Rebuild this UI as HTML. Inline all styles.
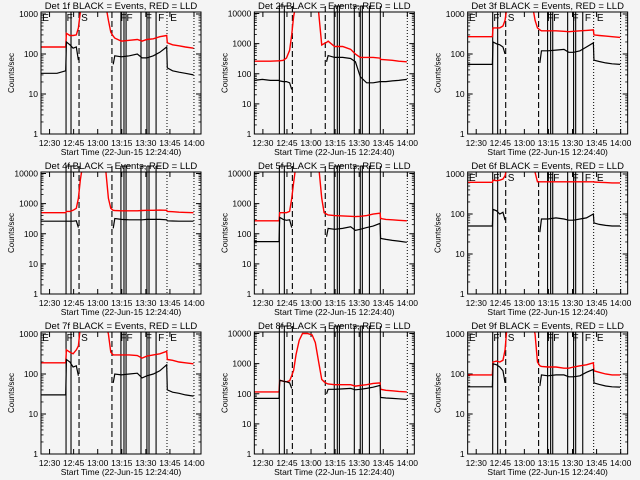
<!DOCTYPE html>
<html><head><meta charset="utf-8"><style>
html,body{margin:0;padding:0;background:#f4f4f4;}
svg{display:block;font-family:"Liberation Sans",sans-serif;}
</style></head><body>
<svg id="chart" width="640" height="480" viewBox="0 0 640 480" xmlns="http://www.w3.org/2000/svg">
<rect x="0" y="0" width="640" height="480" fill="#f4f4f4"/>
</svg>
<script>
const N=null;
const T=[0,5,10,15.4,15.8,18,20,22,23.3,24.5,26,28,30,33,36,38,40,42,43.5,45,46,50,55,60,63,66,70,74,78.3,78.7,82,86,90,95];
const DETECTORS=["1f","2f","3f","4f","5f","6f","7f","8f","9f"];
const TOPS=[1000,10000,1000,10000,10000,1000,1000,10000,1000];
const XTICK_TIMES=[5.33,20.33,35.33,50.33,65.33,80.33,95.33];
const XTICK_LABELS=["12:30","12:45","13:00","13:15","13:30","13:45","14:00"];
const SOLID_LINES=[15.6,18.7,49.8,51.7,53,62.3,66,67.3,71.7];
const DASHED_LINES=[23.7,44.2];
const DOTTED_LINES=[78.5,95.3];
const MARK_LABELS=["E","F","S","FF","F","F","E"];
const MARK_TIMES=[0.8,16,25,49.5,65.3,73,80.5];

const RED1=[150,150,150,150,330,290,290,300,450,1100,2000,2000,2000,2000,2000,2000,2000,700,350,280,250,210,220,230,210,230,240,270,290,190,170,160,150,140];
const BLACK1=[33,33,33,38,200,170,140,150,70,N,N,N,N,N,N,N,N,N,N,55,90,85,90,100,80,80,90,110,150,45,38,35,33,30];
const RED2=[260,260,260,270,270,280,330,600,2000,8000,20000,20000,20000,20000,20000,20000,12000,900,1000,1100,1200,800,800,650,450,350,350,350,330,300,290,280,260,250];
const BLACK2=[60,65,60,60,58,55,55,50,30,N,N,N,N,N,N,N,N,N,N,250,400,350,350,320,250,80,50,50,55,55,55,58,60,65];
const RED3=[270,270,270,270,450,450,450,500,700,1500,2000,2000,2000,2000,2000,2000,2000,700,450,400,380,380,380,370,360,370,380,390,400,300,290,280,270,260];
const BLACK3=[55,55,55,55,200,180,170,150,100,N,N,N,N,N,N,N,N,N,N,60,120,120,125,130,110,110,120,150,190,70,65,60,57,55];
const RED4=[500,500,500,500,550,550,600,700,1500,6000,20000,20000,20000,20000,20000,20000,20000,1500,700,600,590,580,580,580,590,600,600,610,600,550,540,520,510,500];
const BLACK4=[260,260,260,260,260,260,260,270,160,N,N,N,N,N,N,N,N,N,N,150,320,300,290,290,290,300,300,300,290,270,265,260,260,260];
const RED5=[270,270,270,270,500,500,500,550,1500,5000,20000,20000,20000,20000,20000,20000,20000,1500,500,450,420,400,390,380,370,380,400,450,480,320,300,290,280,270];
const BLACK5=[55,55,55,55,350,300,280,290,160,N,N,N,N,N,N,N,N,N,N,80,150,140,150,170,130,140,160,180,220,70,65,60,57,52];
const RED6=[620,620,620,620,700,680,700,750,900,1500,2000,2000,2000,2000,2000,2000,2000,1100,640,640,640,640,640,640,640,640,640,640,640,630,620,610,600,600];
const BLACK6=[50,50,50,50,130,120,100,110,70,N,N,N,N,N,N,N,N,N,N,35,75,75,80,75,70,70,75,80,100,60,55,52,50,50];
const RED7=[190,190,190,190,400,350,320,400,500,1500,2000,2000,2000,2000,2000,2000,2000,1000,350,300,300,300,300,290,250,280,300,320,370,230,220,200,190,180];
const BLACK7=[30,30,30,30,230,200,150,160,90,N,N,N,N,N,N,N,N,N,N,60,100,95,100,105,80,90,100,120,170,40,35,33,30,28];
const RED8=[115,115,115,115,280,260,250,270,400,600,2000,6000,10000,10000,9000,5000,1200,300,250,220,210,200,200,200,180,190,200,220,230,140,130,125,120,115];
const BLACK8=[70,70,70,70,280,260,250,230,150,N,N,N,N,N,N,N,N,N,N,100,140,140,145,150,135,140,150,165,190,75,72,70,68,65];
const RED9=[95,95,95,95,200,210,200,220,400,1500,2000,2000,2000,2000,2000,2000,2000,1000,200,160,155,150,150,140,140,150,160,170,190,120,110,100,95,95];
const BLACK9=[48,48,48,48,180,170,150,120,60,N,N,N,N,N,N,N,N,N,N,50,95,90,95,95,85,85,90,110,130,60,55,50,48,47];
const REDS=[RED1,RED2,RED3,RED4,RED5,RED6,RED7,RED8,RED9];
const BLACKS=[BLACK1,BLACK2,BLACK3,BLACK4,BLACK5,BLACK6,BLACK7,BLACK8,BLACK9];

const svg=document.getElementById('chart');
const NS='http://www.w3.org/2000/svg';
function mk(tag,attrs,parent){const e=document.createElementNS(NS,tag);for(const k in attrs)e.setAttribute(k,attrs[k]);parent.appendChild(e);return e;}
const PX0=41,PX1=201,PY0=12,PY1=134;
function xs(t){return PX0+t*1.605;}
function makeY(top){const dec=Math.log10(top);const span=dec===3?120:120.5;return v=>PY1-Math.log10(v)/dec*span;}

for(let p=0;p<9;p++){
  const col=p%3,row=Math.floor(p/3);
  const g=mk('g',{transform:`translate(${(col*213.33).toFixed(2)},${row*160})`},svg);
  
  
  const top=TOPS[p];const ys=makeY(top);const big=top===10000;
  const cid='clip'+p;
  const defs=mk('defs',{},g);const cp=mk('clipPath',{id:cid},defs);mk('rect',{x:PX0,y:PY0,width:PX1-PX0,height:PY1-PY0},cp);
  // title
  const title=mk('text',{x:121,y:9,'font-size':9.5,'text-anchor':'middle',fill:'#000'},g);
  title.textContent='Det '+DETECTORS[p]+' BLACK = Events, RED = LLD';
  
  
  // y ticks
  const decs=big?[1,10,100,1000,10000]:[1,10,100,1000];
  decs.forEach(v=>{const y=ys(v);
    mk('line',{x1:PX0,x2:PX0+5,y1:y,y2:y,stroke:'#000','stroke-width':1},g);
    mk('line',{x1:PX1-5,x2:PX1,y1:y,y2:y,stroke:'#000','stroke-width':1},g);
    const lb=mk('text',{x:PX0-3,y:y+3,'font-size':8.5,'text-anchor':'end',fill:'#000'},g);lb.textContent=String(v);
    
    
    for(let m=2;m<10;m++){const mv=v*m;if(mv>top)break;const my=ys(mv);
      mk('line',{x1:PX0,x2:PX0+2.5,y1:my,y2:my,stroke:'#000','stroke-width':0.8},g);
      mk('line',{x1:PX1-2.5,x2:PX1,y1:my,y2:my,stroke:'#000','stroke-width':0.8},g);}
  });
  const yt=mk('text',{x:0,y:0,'font-size':8,'text-anchor':'middle',fill:'#000',transform:'translate(14,73) rotate(-90)'},g);
  yt.textContent='Counts/sec';
  
  
  // x ticks
  XTICK_TIMES.forEach((t,i)=>{const x=xs(t);
    mk('line',{x1:x,x2:x,y1:PY1,y2:PY1-5,stroke:'#000','stroke-width':1},g);
    mk('line',{x1:x,x2:x,y1:PY0,y2:PY0+5,stroke:'#000','stroke-width':1},g);
    const lb=mk('text',{x:x,y:146,'font-size':8.5,'text-anchor':'middle',fill:'#000'},g);lb.textContent=XTICK_LABELS[i];
    
    
  });
  const xt=mk('text',{x:121,y:155,'font-size':8.5,'text-anchor':'middle',fill:'#000'},g);
  xt.textContent='Start Time (22-Jun-15 12:24:40)';
  
  
  // vertical markers
  const ytop=big?6:PY0;
  SOLID_LINES.forEach(t=>{const x=xs(t);mk('line',{x1:x,x2:x,y1:ytop,y2:PY1,stroke:'#000','stroke-width':1.1},g);
    if(big)mk('line',{x1:x,x2:x+5,y1:ytop,y2:ytop,stroke:'#000','stroke-width':1},g);});
  DASHED_LINES.forEach(t=>{const x=xs(t);mk('line',{x1:x,x2:x,y1:ytop,y2:PY1,stroke:'#000','stroke-width':1.1,'stroke-dasharray':'6,3'},g);});
  DOTTED_LINES.forEach((t,i)=>{const x=xs(t);const solid=(col===1&&i===0);
    mk('line',{x1:x,x2:x,y1:(solid?ytop:PY0),y2:PY1,stroke:'#000','stroke-width':1,'stroke-dasharray':solid?'none':'1,2'},g);});
  if(!big){MARK_LABELS.forEach((s,i)=>{const m=mk('text',{x:xs(MARK_TIMES[i]),y:PY0+9,'font-size':10,fill:'#000'},g);m.textContent=s;
    
    });}
  // series
  function path(arr){let d='',pen=false;arr.forEach((v,i)=>{if(v===null){pen=false;return;}d+=(pen?'L':'M')+xs(T[i]).toFixed(1)+','+ys(v).toFixed(1);pen=true;});return d;}
  const rp=mk('path',{d:path(REDS[p]),fill:'none',stroke:'#ff0000','stroke-width':1.4,'clip-path':`url(#${cid})`},g);
  
  
  const bp=mk('path',{d:path(BLACKS[p]),fill:'none',stroke:'#000','stroke-width':1.2,'clip-path':`url(#${cid})`},g);
  
  
  // frame
  const fr=mk('rect',{x:PX0,y:PY0,width:PX1-PX0,height:PY1-PY0,fill:'none',stroke:'#000','stroke-width':1},g);
  
  
}
</script>
</body></html>
